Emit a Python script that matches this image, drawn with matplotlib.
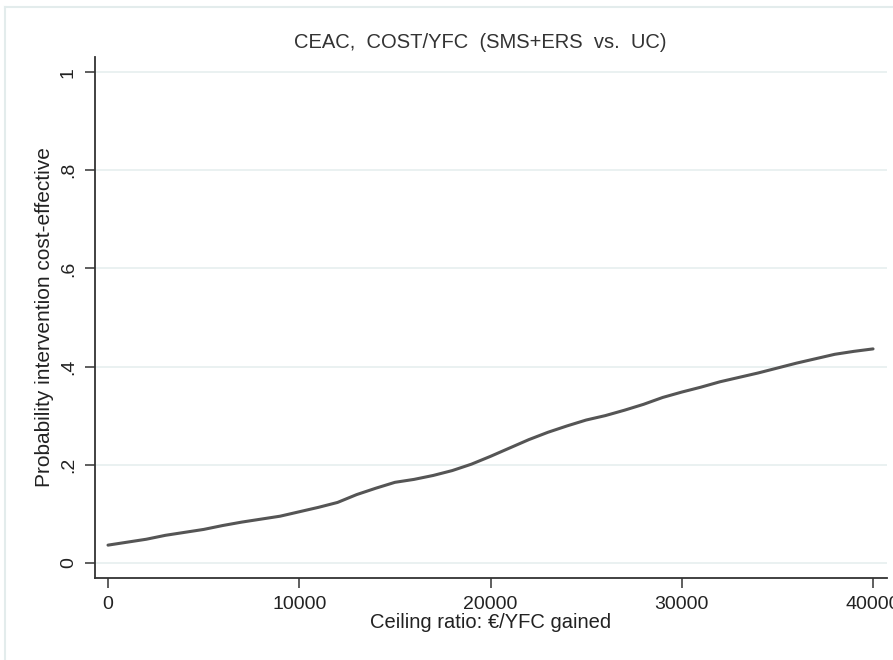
import matplotlib
matplotlib.use("Agg")
import matplotlib.pyplot as plt
from matplotlib.lines import Line2D

plt.rcParams['font.family'] = ['Liberation Sans', 'DejaVu Sans']

ceiling = [0, 1000, 2000, 3000, 4000, 5000, 6000, 7000, 8000, 9000,
           10000, 11000, 12000, 13000, 14000, 15000, 16000, 17000, 18000, 19000,
           20000, 21000, 22000, 23000, 24000, 25000, 26000, 27000, 28000, 29000,
           30000, 31000, 32000, 33000, 34000, 35000, 36000, 37000, 38000, 39000,
           40000]
prob = [0.036, 0.042, 0.048, 0.056, 0.062, 0.068, 0.076, 0.083, 0.089, 0.095,
        0.104, 0.113, 0.123, 0.139, 0.152, 0.164, 0.170, 0.178, 0.188, 0.201,
        0.217, 0.234, 0.251, 0.266, 0.279, 0.291, 0.300, 0.311, 0.323, 0.337,
        0.348, 0.358, 0.369, 0.378, 0.387, 0.397, 0.407, 0.416, 0.425, 0.431,
        0.436]

xticks = [0, 10000, 20000, 30000, 40000]
xticklabels = ["0", "10000", "20000", "30000", "40000"]
yticks = [0, 0.2, 0.4, 0.6, 0.8, 1.0]
yticklabels = ["0", ".2", ".4", ".6", ".8", "1"]

title = "CEAC,  COST/YFC  (SMS+ERS  vs.  UC)"
xlabel = "Ceiling ratio: \u20ac/YFC gained"
ylabel = "Probability intervention cost-effective"

fig = plt.figure(figsize=(8.93, 6.6), dpi=100)
ax = fig.add_axes([95/893, 82/660, (887-95)/893, (578-57)/660])

ax.plot(ceiling, prob, color='#555555', lw=2.2, solid_capstyle='round')

ax.set_xlim(-680, 40730)
ax.set_ylim(-0.031, 1.031)
ax.set_xticks(xticks)
ax.set_xticklabels(xticklabels)
ax.set_yticks(yticks)
ax.set_yticklabels(yticklabels, rotation=90, va='center')

for s in ['top', 'right']:
    ax.spines[s].set_visible(False)
for s in ['left', 'bottom']:
    ax.spines[s].set_color('#333333')
    ax.spines[s].set_linewidth(1.3)

ax.tick_params(axis='both', length=7, width=1.1, color='#333333',
               labelsize=14, labelcolor='#222222', pad=6)
ax.yaxis.grid(True, color='#e6efef', lw=1.2)
ax.set_axisbelow(True)

fig.text(480/893, 1 - 43/660, title, fontsize=14.5, color='#333333',
         ha='center', va='center')
ax.set_xlabel(xlabel, fontsize=14.5, color='#222222', labelpad=0)
ax.set_ylabel(ylabel, fontsize=15, color='#222222', labelpad=4)

# outer light frame
fig.add_artist(Line2D([5/893, 5/893], [0, 1 - 7/660], transform=fig.transFigure,
                      color='#e3ecec', lw=1.5))
fig.add_artist(Line2D([5/893, 1], [1 - 7/660, 1 - 7/660], transform=fig.transFigure,
                      color='#e3ecec', lw=1.5))

fig.savefig("out.png", dpi=100)
